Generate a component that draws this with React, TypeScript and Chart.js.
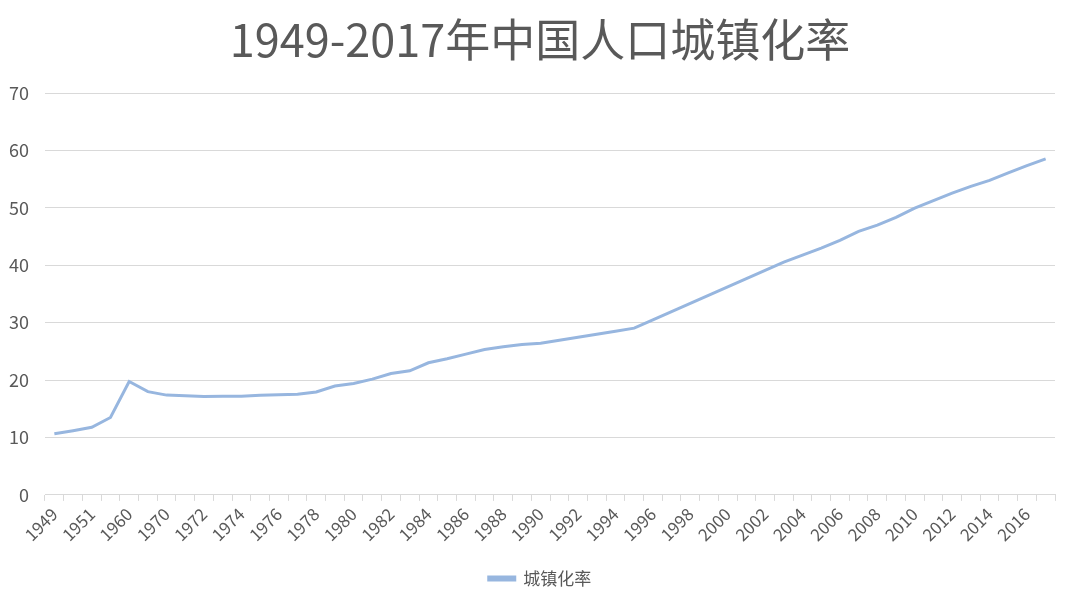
import React, { useEffect, useRef } from "react";
import { Chart, registerables } from "chart.js";

Chart.register(...registerables);

const categories: string[] = [
  "1949", "1950", "1951", "1955", "1960", "1965",
  "1970", "1971", "1972", "1973", "1974", "1975", "1976", "1977", "1978", "1979",
  "1980", "1981", "1982", "1983", "1984", "1985", "1986", "1987", "1988", "1989",
  "1990", "1991", "1992", "1993", "1994", "1995", "1996", "1997", "1998", "1999",
  "2000", "2001", "2002", "2003", "2004", "2005", "2006", "2007", "2008", "2009",
  "2010", "2011", "2012", "2013", "2014", "2015", "2016", "2017",
];

const urbanRate: number[] = [
  10.64, 11.18, 11.78, 13.48, 19.75, 17.98,
  17.38, 17.26, 17.13, 17.2, 17.16, 17.34, 17.44, 17.55, 17.92, 18.96,
  19.39, 20.16, 21.13, 21.62, 23.01, 23.71, 24.52, 25.32, 25.81, 26.21,
  26.41, 26.94, 27.46, 27.99, 28.51, 29.04, 30.48, 31.91, 33.35, 34.78,
  36.22, 37.66, 39.09, 40.53, 41.76, 42.99, 44.34, 45.89, 46.99, 48.34,
  49.95, 51.27, 52.57, 53.73, 54.77, 56.1, 57.35, 58.52,
];

const yTicks: number[] = [0, 10, 20, 30, 40, 50, 60, 70];

const titleText = "1949-2017年中国人口城镇化率";
const seriesName = "城镇化率";

const FONT = "'Noto Sans CJK SC', 'Noto Sans', sans-serif";

export default function App() {
  const ref = useRef<HTMLCanvasElement | null>(null);

  useEffect(() => {
    document.body.style.margin = "0";
    const canvas = ref.current;
    if (!canvas) return;
    const chart = new Chart(canvas, {
      type: "line",
      data: {
        labels: categories,
        datasets: [
          {
            label: seriesName,
            data: urbanRate,
            borderColor: "#97b6df",
            backgroundColor: "#97b6df",
            borderWidth: 3,
            pointRadius: 0,
            tension: 0,
            fill: false,
          },
        ],
      },
      options: {
        responsive: false,
        animation: false,
        maintainAspectRatio: false,
        layout: { padding: { left: 0, right: 0, top: 0, bottom: 6 } },
        plugins: {
          title: {
            display: true,
            text: titleText,
            color: "#595959",
            font: { family: FONT, size: 45, weight: "normal" },
            padding: { top: 13, bottom: 26 },
          },
          legend: {
            display: true,
            position: "bottom",
            labels: {
              color: "#595959",
              font: { family: FONT, size: 17 },
              boxWidth: 26,
              boxHeight: 3,
              padding: 8,
            },
          },
          tooltip: { enabled: false },
        },
        scales: {
          x: {
            type: "category",
            offset: true,
            afterFit: (scale: any) => {
              scale.paddingLeft = 0;
              scale.paddingRight = 25;
              scale.height = scale.height + 14;
            },
            grid: {
              display: true,
              drawOnChartArea: false,
              drawTicks: true,
              tickLength: 6,
              offset: true,
              color: "#d9d9d9",
            },
            border: { display: true, color: "#d9d9d9" },
            ticks: {
              autoSkip: false,
              maxRotation: 45,
              minRotation: 45,
              padding: 3,
              color: "#595959",
              font: { family: FONT, size: 17 },
              callback: (_v: any, i: number) => (i % 2 === 0 ? categories[i] : ""),
            },
          },
          y: {
            min: 0,
            max: 70,
            afterBuildTicks: (axis: any) => {
              axis.ticks = yTicks.map((v) => ({ value: v }));
            },
            afterFit: (scale: any) => {
              scale.width = 45;
            },
            grid: { color: "#d9d9d9", drawTicks: false },
            border: { display: false },
            ticks: {
              color: "#595959",
              font: { family: FONT, size: 18 },
              padding: 16,
            },
          },
        },
      },
    });
    return () => chart.destroy();
  }, []);

  return (
    <div style={{ position: "absolute", left: 0, top: 0, width: 1080, height: 603, background: "#fff" }}>
      <canvas ref={ref} width={1080} height={603} style={{ width: 1080, height: 603 }} />
    </div>
  );
}
